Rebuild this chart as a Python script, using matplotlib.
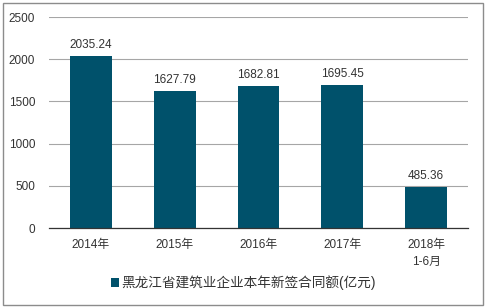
import matplotlib
matplotlib.use("Agg")
import matplotlib.pyplot as plt
from matplotlib.patches import Rectangle

plt.rcParams['font.family'] = ['Liberation Sans', 'Noto Sans CJK SC', 'DejaVu Sans']

categories = ['2014年', '2015年', '2016年', '2017年', '2018年\n1-6月']
values = [2035.24, 1627.79, 1682.81, 1695.45, 485.36]
yticks = [0, 500, 1000, 1500, 2000, 2500]
series_name = '黑龙江省建筑业企业本年新签合同额(亿元)'

bar_color = '#00516b'

fig = plt.figure(figsize=(4.86, 3.08), dpi=100)
ax = fig.add_axes([0.1008, 0.2597, 0.862, 0.6851])

x = range(len(categories))
bars = ax.bar(x, values, width=0.5, color=bar_color, zorder=3, label=series_name)
for xi, v in zip(x, values):
    ax.text(xi, v + 60, f'{v:.2f}', ha='center', va='bottom', fontsize=8.5, color='#333333')

ax.set_xlim(-0.5, len(categories) - 0.5)
ax.set_ylim(0, 2500)
ax.set_yticks(yticks)
ax.set_yticklabels([str(t) for t in yticks], fontsize=8.5, color='#333333')
ax.set_xticks(list(x))
ax.set_xticklabels(categories, fontsize=8.5, color='#333333', linespacing=1.5)
ax.tick_params(axis='both', length=0)
ax.tick_params(axis='y', pad=10)
ax.tick_params(axis='x', pad=8)
ax.grid(axis='y', color='#a6a6a6', linewidth=0.8, zorder=0)
for s in ['top', 'right', 'left']:
    ax.spines[s].set_visible(False)
ax.spines['bottom'].set_color('#333333')
ax.spines['bottom'].set_linewidth(0.9)
ax.spines['bottom'].set_zorder(4)

fig.legend(handles=[bars], labels=[series_name], loc='center', bbox_to_anchor=(0.5, 0.081),
           frameon=False, fontsize=9.8, handlelength=0.6, handleheight=0.6, handletextpad=0.15,
           labelcolor='#333333')

# outer border
fig.patches.append(Rectangle((0.006, 0.01), 0.988, 0.98, transform=fig.transFigure,
                             fill=False, edgecolor='#8c8c8c', linewidth=1.0))

fig.savefig('out.png', dpi=100)
